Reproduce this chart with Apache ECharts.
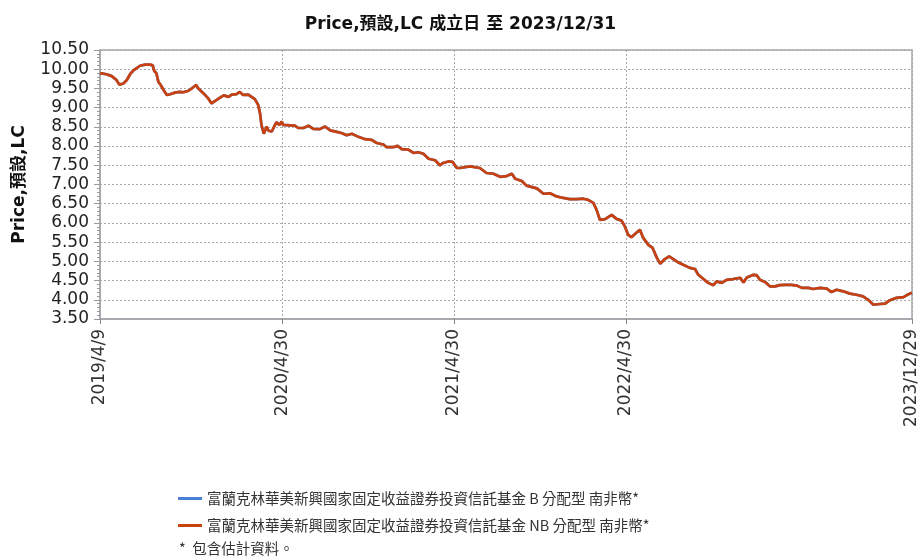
<!DOCTYPE html>
<html>
<head>
<meta charset="utf-8">
<script src="https://cdn.jsdelivr.net/npm/echarts@6/dist/echarts.min.js"></script>
<style>
  html, body { margin: 0; padding: 0; background: #fff; }
  #main { width: 921px; height: 559px; }
</style>
</head>
<body>
<div id="main"></div>
<script>
// 讀圖估計的淨值
var dates = [
  '2019-04-09','2019-04-23','2019-05-04','2019-05-14','2019-05-20','2019-05-29','2019-06-05','2019-06-12',
  '2019-06-19','2019-06-26','2019-07-03','2019-07-14','2019-07-24','2019-07-30','2019-08-02','2019-08-07',
  '2019-08-11','2019-08-16','2019-08-22','2019-08-29','2019-09-05','2019-09-15','2019-09-26','2019-10-03',
  '2019-10-14','2019-10-21','2019-10-30','2019-11-04','2019-11-15','2019-11-25','2019-12-02','2019-12-09',
  '2019-12-20','2019-12-28','2020-01-07','2020-01-14','2020-01-24','2020-01-31','2020-02-07','2020-02-18',
  '2020-02-25','2020-03-03','2020-03-10','2020-03-14','2020-03-17','2020-03-22','2020-03-28','2020-04-01',
  '2020-04-08','2020-04-13','2020-04-18','2020-04-24','2020-04-29','2020-05-02','2020-05-17','2020-05-27',
  '2020-06-03','2020-06-14','2020-06-25','2020-07-05','2020-07-19','2020-07-30','2020-08-10','2020-08-24',
  '2020-09-03','2020-09-14','2020-09-25','2020-10-09','2020-10-23','2020-11-06','2020-11-17','2020-12-01',
  '2020-12-08','2020-12-22','2020-12-31','2021-01-09','2021-01-23','2021-02-03','2021-02-13','2021-02-24',
  '2021-03-07','2021-03-21','2021-03-31','2021-04-07','2021-04-18','2021-04-27','2021-05-06','2021-05-13',
  '2021-06-03','2021-06-24','2021-07-08','2021-07-23','2021-08-06','2021-08-20','2021-08-31','2021-09-07',
  '2021-09-21','2021-10-01','2021-10-23','2021-11-06','2021-11-20','2021-12-04','2021-12-18','2022-01-01',
  '2022-01-16','2022-01-30','2022-02-09','2022-02-20','2022-02-27','2022-03-06','2022-03-17','2022-03-31',
  '2022-04-11','2022-04-21','2022-04-28','2022-05-05','2022-05-12','2022-05-23','2022-05-30','2022-06-06',
  '2022-06-17','2022-06-26','2022-07-05','2022-07-12','2022-07-22','2022-07-31','2022-08-09','2022-08-20',
  '2022-08-30','2022-09-13','2022-09-24','2022-10-01','2022-10-12','2022-10-22','2022-11-02','2022-11-09',
  '2022-11-20','2022-11-30','2022-12-14','2022-12-29','2023-01-05','2023-01-12','2023-01-26','2023-02-02',
  '2023-02-09','2023-02-20','2023-03-02','2023-03-13','2023-03-23','2023-04-03','2023-04-17','2023-04-28',
  '2023-05-09','2023-05-23','2023-06-02','2023-06-17','2023-07-01','2023-07-11','2023-07-22','2023-08-05',
  '2023-08-19','2023-09-02','2023-09-16','2023-09-27','2023-10-08','2023-10-22','2023-11-02','2023-11-12',
  '2023-11-26','2023-12-11','2023-12-19','2023-12-29'
];
var nbValues = [
  9.90, 9.87, 9.82, 9.72, 9.60, 9.63, 9.72, 9.87,
  9.97, 10.03, 10.09, 10.12, 10.12, 10.10, 9.96, 9.89,
  9.67, 9.59, 9.46, 9.33, 9.35, 9.39, 9.41, 9.40,
  9.44, 9.50, 9.59, 9.50, 9.37, 9.24, 9.11, 9.17,
  9.26, 9.32, 9.28, 9.34, 9.35, 9.41, 9.33, 9.34,
  9.28, 9.22, 9.07, 8.85, 8.55, 8.32, 8.51, 8.40,
  8.38, 8.51, 8.62, 8.55, 8.64, 8.55, 8.54, 8.53,
  8.47, 8.47, 8.53, 8.45, 8.44, 8.51, 8.41, 8.37,
  8.34, 8.28, 8.32, 8.24, 8.18, 8.16, 8.08, 8.04,
  7.97, 7.97, 8.01, 7.92, 7.91, 7.82, 7.84, 7.80,
  7.67, 7.63, 7.50, 7.56, 7.60, 7.59, 7.43, 7.43,
  7.47, 7.43, 7.30, 7.28, 7.20, 7.22, 7.28, 7.15,
  7.09, 6.97, 6.90, 6.76, 6.77, 6.69, 6.65, 6.62,
  6.62, 6.63, 6.60, 6.52, 6.34, 6.08, 6.10, 6.21,
  6.10, 6.06, 5.91, 5.69, 5.63, 5.75, 5.82, 5.61,
  5.43, 5.35, 5.09, 4.94, 5.06, 5.13, 5.06, 4.97,
  4.91, 4.83, 4.80, 4.65, 4.54, 4.44, 4.38, 4.48,
  4.44, 4.52, 4.54, 4.57, 4.45, 4.58, 4.65, 4.64,
  4.52, 4.46, 4.35, 4.35, 4.38, 4.39, 4.39, 4.37,
  4.31, 4.31, 4.28, 4.31, 4.29, 4.20, 4.26, 4.22,
  4.16, 4.13, 4.09, 4.00, 3.87, 3.89, 3.90, 3.99,
  4.05, 4.07, 4.13, 4.18
];
// B 類型與 NB 類型走勢重疊
var bValues = nbValues.slice();
var tickDates = ['2019-04-09', '2020-04-30', '2021-04-30', '2022-04-30', '2023-12-29'];
var seriesNames = [
  '富蘭克林華美新興國家固定收益證券投資信託基金 B 分配型 南非幣*',
  '富蘭克林華美新興國家固定收益證券投資信託基金 NB 分配型 南非幣*'
];

function ts(s) {
  var p = s.split('-');
  return new Date(+p[0], +p[1] - 1, +p[2]).getTime();
}
function pairs(vals) {
  return dates.map(function (d, i) { return [ts(d), vals[i]]; });
}
var tickTs = tickDates.map(ts);
var latin = '"DejaVu Sans", Verdana, "Noto Sans CJK TC", sans-serif';
var cjk = '"Noto Sans CJK TC", "DejaVu Sans", sans-serif';

var myChart = echarts.init(document.getElementById('main'));
var option = {
  animation: false,
  color: ['#4a7fd6', '#c8410e'],
  title: {
    text: 'Price,預設,LC 成立日 至 2023/12/31',
    left: 'center',
    top: 11,
    textStyle: { fontFamily: latin, fontSize: 17, fontWeight: 'bold', color: '#111' }
  },
  grid: {
    left: 100, right: 9, top: 50, bottom: 240,
    show: true, borderColor: '#a4a8ac', borderWidth: 1.5
  },
  legend: {
    orient: 'vertical',
    left: 173, top: 486,
    icon: 'rect',
    itemWidth: 24, itemHeight: 3, itemGap: 12,
    data: seriesNames,
    textStyle: { fontFamily: cjk, fontSize: 14.5, color: '#333', lineHeight: 15 }
  },
  graphic: [{
    type: 'text', left: 179, top: 541,
    style: { text: '*  包含估計資料。', font: '14.5px "Noto Sans CJK TC", sans-serif', fill: '#333' }
  }],
  xAxis: {
    type: 'value',
    min: ts(dates[0]),
    max: ts(dates[dates.length - 1]),
    axisLine: { lineStyle: { color: '#a4a8ac', width: 1.5 } },
    axisTick: { show: true, customValues: tickTs, length: 5, lineStyle: { color: '#888' } },
    axisLabel: {
      customValues: tickTs,
      rotate: 90,
      margin: 10,
      fontFamily: latin, fontSize: 17, color: '#333',
      formatter: function (v) {
        var d = new Date(v);
        return d.getFullYear() + '/' + (d.getMonth() + 1) + '/' + d.getDate();
      }
    },
    splitLine: { show: true, lineStyle: { color: '#aaa', type: [2, 2] } }
  },
  yAxis: {
    type: 'value',
    min: 3.5, max: 10.5, interval: 0.5,
    name: 'Price,預設,LC',
    nameLocation: 'middle',
    nameRotate: 90,
    nameGap: 72,
    nameTextStyle: { fontFamily: latin, fontSize: 17, fontWeight: 'bold', color: '#111' },
    axisLine: { show: true, lineStyle: { color: '#a4a8ac', width: 1.5 } },
    axisTick: { show: true, length: 6, lineStyle: { color: '#999' } },
    minorTick: { show: true, splitNumber: 5, length: 3, lineStyle: { color: '#999' } },
    axisLabel: {
      fontFamily: latin, fontSize: 17, color: '#222', margin: 11,
      formatter: function (v) { return v.toFixed(2); }
    },
    splitLine: { show: true, lineStyle: { color: '#aaa', type: [2, 2] } }
  },
  series: [
    {
      name: seriesNames[0], type: 'line', symbol: 'none',
      lineStyle: { width: 2.7 }, data: pairs(bValues)
    },
    {
      name: seriesNames[1], type: 'line', symbol: 'none',
      lineStyle: { width: 2.7 }, data: pairs(nbValues)
    }
  ]
};
myChart.setOption(option);
</script>
</body>
</html>
